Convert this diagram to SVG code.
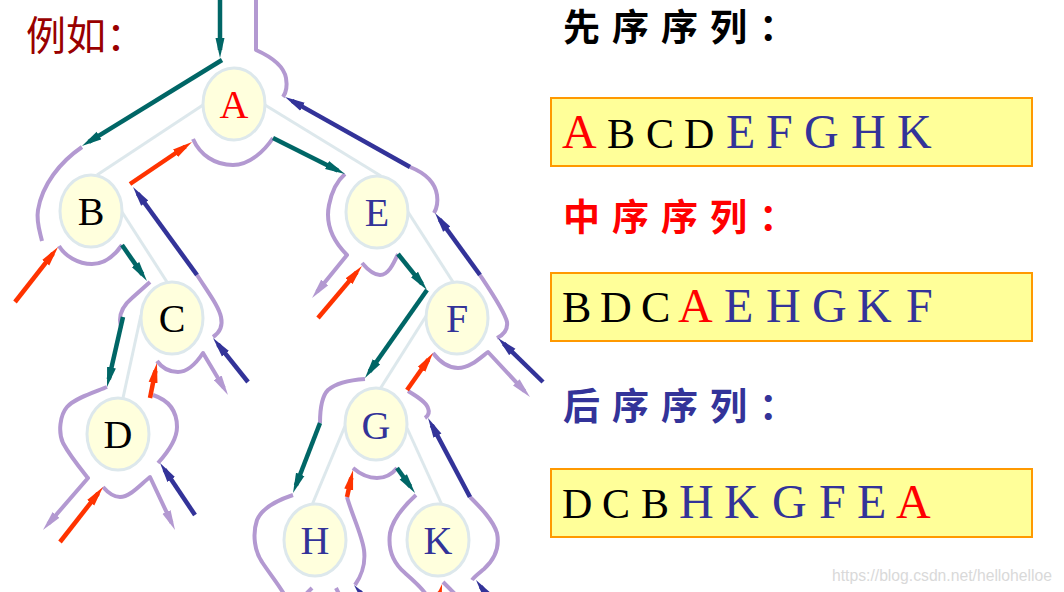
<svg xmlns="http://www.w3.org/2000/svg" width="1064" height="592" viewBox="0 0 1064 592">
<style>
.lav{fill:none;stroke:#b399d1;stroke-width:4;stroke-linejoin:round;stroke-linecap:butt}
.lava{marker-end:url(#mlv)}
.te{fill:none;stroke:#006666;stroke-width:4.5;marker-end:url(#mte)}
.rd{fill:none;stroke:#ff3300;stroke-width:4.5;marker-end:url(#mrd)}
.bl{fill:none;stroke:#333399;stroke-width:4.5;marker-end:url(#mbl)}
.edge{stroke:#dde8ec;stroke-width:3;fill:none}
.nd ellipse{fill:#ffffdd;stroke:#dde8ec;stroke-width:3}
.nd text{font-family:"Liberation Serif",serif;font-size:40px;text-anchor:middle}
.seq{font-family:"Liberation Serif",serif;font-size:48px;fill:#333399}
.hd{font-family:"Noto Sans CJK SC",sans-serif;font-size:37px;font-weight:bold;letter-spacing:12px}
.box{fill:#ffff99;stroke:#ff9900;stroke-width:2}
</style>
<defs>
<marker id="mte" viewBox="0 0 20 10" refX="12" refY="5" markerWidth="20" markerHeight="10" orient="auto" markerUnits="userSpaceOnUse"><path d="M0,0.5 L20,5 L0,9.5 z" fill="#006666"/></marker>
<marker id="mrd" viewBox="0 0 20 10" refX="12" refY="5" markerWidth="20" markerHeight="10" orient="auto" markerUnits="userSpaceOnUse"><path d="M0,0.5 L20,5 L0,9.5 z" fill="#ff3300"/></marker>
<marker id="mbl" viewBox="0 0 20 10" refX="12" refY="5" markerWidth="20" markerHeight="10" orient="auto" markerUnits="userSpaceOnUse"><path d="M0,0.5 L20,5 L0,9.5 z" fill="#333399"/></marker>
<marker id="mlv" viewBox="0 0 20 10" refX="12" refY="5" markerWidth="20" markerHeight="10" orient="auto" markerUnits="userSpaceOnUse"><path d="M0,0.5 L20,5 L0,9.5 z" fill="#b399d1"/></marker>
</defs>
<rect width="1064" height="592" fill="#ffffff"/>

<text x="26" y="50" font-family="'Noto Sans CJK SC',sans-serif" font-size="40" fill="#990000">例如：</text>

<g id="tree-edges">
<line class="edge" x1="203" y1="105" x2="97" y2="175"/>
<line class="edge" x1="265" y1="105" x2="381" y2="176"/>
<line class="edge" x1="122" y1="212" x2="167" y2="282"/>
<line class="edge" x1="141" y1="315" x2="123" y2="398"/>
<line class="edge" x1="408" y1="212" x2="453" y2="282"/>
<line class="edge" x1="428" y1="313" x2="380" y2="389"/>
<line class="edge" x1="345" y1="426" x2="312" y2="505"/>
<line class="edge" x1="407" y1="428" x2="442" y2="505"/>
</g>

<g id="nodes">
<g id="node-A" class="nd"><ellipse cx="234" cy="104" rx="31" ry="36"/><text x="234" y="118" fill="#ff0000">A</text></g>
<g id="node-B" class="nd"><ellipse cx="91" cy="211" rx="31" ry="36"/><text x="91" y="225" fill="#000000">B</text></g>
<g id="node-C" class="nd"><ellipse cx="172" cy="318" rx="31" ry="36"/><text x="172" y="332" fill="#000000">C</text></g>
<g id="node-D" class="nd"><ellipse cx="118" cy="434" rx="31" ry="36"/><text x="118" y="448" fill="#000000">D</text></g>
<g id="node-E" class="nd"><ellipse cx="377" cy="212" rx="31" ry="36"/><text x="377" y="226" fill="#333399">E</text></g>
<g id="node-F" class="nd"><ellipse cx="457" cy="318" rx="31" ry="36"/><text x="457" y="332" fill="#333399">F</text></g>
<g id="node-G" class="nd"><ellipse cx="376" cy="424" rx="31" ry="36"/><text x="376" y="439" fill="#333399">G</text></g>
<g id="node-H" class="nd"><ellipse cx="315" cy="540" rx="31" ry="36"/><text x="315" y="554" fill="#333399">H</text></g>
<g id="node-K" class="nd"><ellipse cx="438" cy="540" rx="31" ry="36"/><text x="438" y="554" fill="#333399">K</text></g>
</g>

<g id="connectors">
<path class="lav" d="M256,0 V50 Q283,62 286,78 Q288,90 283,97"/>
<path class="lav" d="M193,139 C200,155 215,165 233,165 C250,165 265,150 273,138"/>
<path class="lav" d="M82,147 C60,162 42,185 38,210 C36,222 40,232 42,241"/>
<path class="lav" d="M59,246 C65,256 78,264 92,264 C105,264 115,255 122,245"/>
<path class="lav" d="M150,282 L132,298 Q120,308 120,320 L121,328"/>
<path class="lav lava" d="M157,361 C162,368 170,372 178,372 C188,372 197,362 203,353 L223.9,388.1"/>
<path class="lav" d="M213,337 C219,333 223,326 221,317 C219,307 210,295 197,275"/>
<path class="lav lava" d="M107,387 C95,392 75,398 67,407 C60,415 58,432 63,443 C70,456 80,468 88,478 L48.2,524"/>
<path class="lav lava" d="M103,487 C110,495 115,497 120,497 C130,497 140,485 150,477 L171.6,522.8"/>
<path class="lav" d="M158,463 C168,452 177,440 177,427 C177,410 168,400 153,395"/>
<path class="lav lava" d="M345,174 C338,180 332,190 329,205 C326,220 330,238 347,255 L317.1,291.8"/>
<path class="lav" d="M362,263 C368,270 374,275 380,275 C388,275 393,265 398,254"/>
<path class="lav" d="M410,167 C425,173 435,182 437,195 C438,202 437,208 434,213"/>
<path class="lav" d="M480,275 C490,290 505,312 507,322 C508,330 503,335 497,338"/>
<path class="lav lava" d="M433,353 C440,362 448,368 458,368 C470,368 480,358 488,352 L524.5,391.2"/>
<path class="lav" d="M408,391 C418,397 426,402 428,408 C430,413 428,416 425,418"/>
<path class="lav" d="M365,379 C350,380 336,383 328,390 C321,397 320,410 320,423"/>
<path class="lav" d="M353,468 C360,474 368,478 377,478 C387,478 393,473 397,468"/>
<path class="lav" d="M293,495 C278,500 262,508 257,520 C252,535 255,552 262,562 C270,574 278,584 284,594"/>
<path class="lav" d="M347,497 C352,515 362,535 364,550 C366,565 360,578 355,585"/>
<path class="lav" d="M416,495 C405,505 393,518 390,533 C388,548 392,562 405,573 C413,580 420,586 425,593"/>
<path class="lav" d="M470,497 C480,507 493,520 497,533 C500,548 494,560 484,569 C478,574 474,577 472,580"/>
<path class="lav" d="M443,582 L455,594"/>
<path class="lav" d="M306,594 L312,588"/>
<path class="lav" d="M336,588 L339,594"/>
<path class="te" d="M220,0 L220,50"/>
<path class="te" d="M222,60 L88.8,141.8"/>
<path class="te" d="M273,138 L337.8,170.4"/>
<path class="te" d="M122,245 L142.4,274.4"/>
<path class="te" d="M123,317 L108.8,379.2"/>
<path class="te" d="M398,254 L422,283.8"/>
<path class="te" d="M427,290 L369.6,371.5"/>
<path class="te" d="M320,423 L295.9,485.5"/>
<path class="te" d="M397,468 L410.3,486.5"/>
<path class="rd" d="M130,184 L185.4,146.5"/>
<path class="rd" d="M15,302 L53.1,253.3"/>
<path class="rd" d="M60,542 L98.1,493.3"/>
<path class="rd" d="M150,398 L155.4,370.8"/>
<path class="rd" d="M318,318 L356.8,272.1"/>
<path class="rd" d="M407,390 L428.4,359.5"/>
<path class="rd" d="M347,497 L351.3,477.8"/>
<path class="rd" d="M437,604 L440.1,591.8"/>
<path class="bl" d="M410,167 L292,100.9"/>
<path class="bl" d="M197,275 L137.7,193.5"/>
<path class="bl" d="M248,382 L218,344.3"/>
<path class="bl" d="M195,515 L164.5,469.6"/>
<path class="bl" d="M480,275 L439.7,219.5"/>
<path class="bl" d="M543,382 L503.7,343.6"/>
<path class="bl" d="M470,497 L431.8,425.1"/>
<path class="bl" d="M492,602 L480.7,586.5"/>
<path class="bl" d="M368,602 L359.1,591.2"/>
</g>

<g id="preorder">
<text class="hd" x="563" y="41" fill="#000000">先序序列：</text>
<rect class="box" x="551" y="98" width="481" height="68"/>
<text class="seq" y="148"><tspan x="562" fill="#ff0000">A</tspan> <tspan x="607" font-size="42" fill="#000000">B</tspan> <tspan x="646" font-size="42" fill="#000000">C</tspan> <tspan x="684" font-size="42" fill="#000000">D</tspan> <tspan x="726">E</tspan> <tspan x="766">F</tspan> <tspan x="804">G</tspan> <tspan x="851">H</tspan> <tspan x="897">K</tspan></text>
</g>

<g id="inorder">
<text class="hd" x="563" y="231" fill="#ff0000">中序序列：</text>
<rect class="box" x="551" y="273" width="481" height="68"/>
<text class="seq" y="322"><tspan x="562" font-size="44" fill="#000000">B</tspan> <tspan x="600" font-size="44" fill="#000000">D</tspan> <tspan x="641" font-size="44" fill="#000000">C</tspan> <tspan x="678" fill="#ff0000">A</tspan> <tspan x="724">E</tspan> <tspan x="766">H</tspan> <tspan x="812">G</tspan> <tspan x="857">K</tspan> <tspan x="906">F</tspan></text>
</g>

<g id="postorder">
<text class="hd" x="563" y="420" fill="#333399">后序序列：</text>
<rect class="box" x="551" y="469" width="481" height="68"/>
<text class="seq" y="518"><tspan x="562" font-size="42" fill="#000000">D</tspan> <tspan x="602" font-size="42" fill="#000000">C</tspan> <tspan x="641" font-size="42" fill="#000000">B</tspan> <tspan x="679">H</tspan> <tspan x="724">K</tspan> <tspan x="772">G</tspan> <tspan x="819">F</tspan> <tspan x="857">E</tspan> <tspan x="896" fill="#ff0000">A</tspan></text>
</g>

<text x="832" y="581" font-family="'Liberation Sans',sans-serif" font-size="16" textLength="220" lengthAdjust="spacingAndGlyphs" fill="#d9d9d9">https://blog.csdn.net/hellohelloe</text>
</svg>
